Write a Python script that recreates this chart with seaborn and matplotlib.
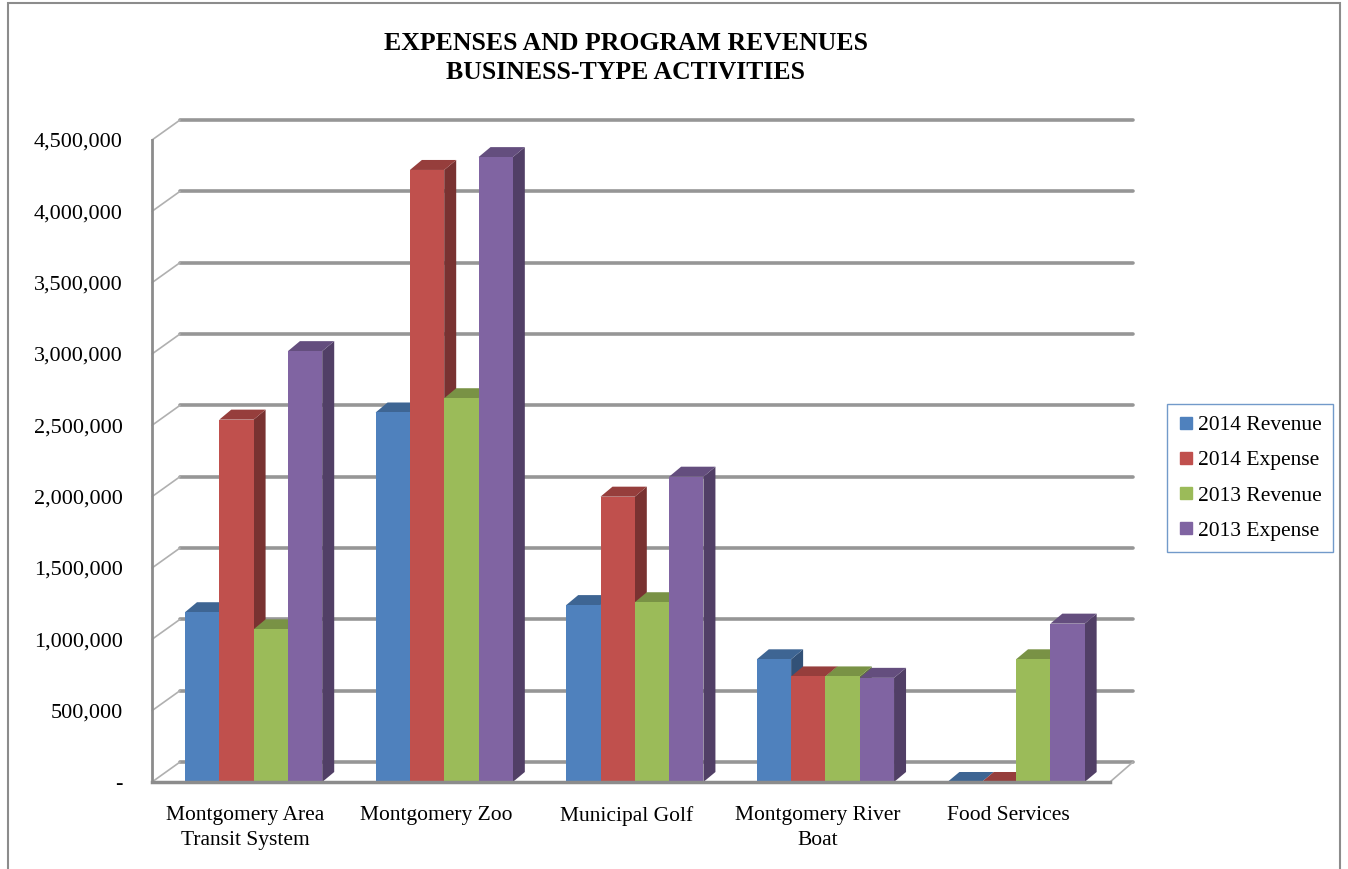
import numpy as np
import pandas as pd
import matplotlib
matplotlib.use("Agg")
import matplotlib.pyplot as plt
import matplotlib.transforms as mtransforms
from matplotlib.patches import Polygon, Rectangle
from matplotlib.lines import Line2D
import seaborn as sns

# ---------------- data ----------------
categories = ["Montgomery Area\nTransit System", "Montgomery Zoo", "Municipal Golf",
              "Montgomery River\nBoat", "Food Services"]
series = ["2014 Revenue", "2014 Expense", "2013 Revenue", "2013 Expense"]
rev_2014 = [1190000, 2590000, 1240000, 860000, 0]
exp_2014 = [2540000, 4290000, 2000000, 740000, 0]
rev_2013 = [1070000, 2690000, 1260000, 740000, 860000]
exp_2013 = [3020000, 4380000, 2140000, 730000, 1110000]
colors = ["#4F81BD", "#C0504D", "#9BBB59", "#8064A2"]
yticks = [0, 500000, 1000000, 1500000, 2000000, 2500000, 3000000, 3500000, 4000000, 4500000]
title = "EXPENSES AND PROGRAM REVENUES\nBUSINESS-TYPE ACTIVITIES"

values = [rev_2014, exp_2014, rev_2013, exp_2013]
df = pd.DataFrame({
    "category": [c for s in series for c in categories],
    "series": [s for s in series for c in categories],
    "value": [v for vals in values for v in vals],
})

# ---------------- style ----------------
sns.set_theme(style="white")
plt.rcParams["font.family"] = ["Liberation Serif", "DejaVu Serif"]
plt.rcParams["text.color"] = "black"
plt.rcParams["xtick.color"] = "black"
plt.rcParams["ytick.color"] = "black"

W, H, DPI = 1348, 869, 100
fig = plt.figure(figsize=(W / DPI, H / DPI), dpi=DPI)
ax_left, ax_right, ax_bot, ax_top = 152, 1110, 782, 140
ax = fig.add_axes([ax_left / W, 1 - ax_bot / H, (ax_right - ax_left) / W, (ax_bot - ax_top) / H])

sns.barplot(data=df, x="category", y="value", hue="series", order=categories,
            hue_order=series, palette=colors, saturation=1, width=0.72,
            legend=False, ax=ax, edgecolor="none", linewidth=0, zorder=2)

ax.set_ylim(0, 4500000)
ax.set_xlim(-0.533, 4.493)
ax.set_yticks(yticks)
ax.set_yticklabels(["-" if v == 0 else f"{v:,}" for v in yticks], fontsize=16, color="black")
ax.set_xlabel("")
ax.set_ylabel("")
ax.tick_params(axis="y", length=0, pad=21)
ax.tick_params(axis="x", length=0, pad=17)
for lbl in ax.get_xticklabels():
    lbl.set_fontsize(15.5)
    lbl.set_color("black")
    lbl.set_linespacing(1.45)
    lbl.set_transform(lbl.get_transform() + mtransforms.ScaledTranslation(-8 / DPI, 0, fig.dpi_scale_trans))

for s in ["top", "right"]:
    ax.spines[s].set_visible(False)
ax.spines["left"].set_color("#8c8c8c")
ax.spines["left"].set_linewidth(2)
ax.spines["bottom"].set_color("#8c8c8c")
ax.spines["bottom"].set_linewidth(2.5)
ax.grid(False)

ident = mtransforms.IdentityTransform()
DX, DY = 12, 10     # bar depth in pixels
GX, GY = 28, 20     # back wall offset in pixels
back_right = 1133

# back-wall gridlines and connectors
for v in yticks:
    fx, fy = ax.transData.transform((ax.get_xlim()[0], v))
    ax.add_line(Line2D([fx + GX, back_right], [fy + GY, fy + GY], transform=ident,
                       color="#969696", lw=2.6, zorder=0.5, clip_on=False))
    ax.add_line(Line2D([fx, fx + GX], [fy, fy + GY], transform=ident,
                       color="#b0b0b0", lw=1.2, zorder=0.5, clip_on=False))
# floor right diagonal
fx0, fy0 = ax.transData.transform((ax.get_xlim()[1], 0))
ax.add_line(Line2D([fx0, fx0 + back_right - ax_right], [fy0, fy0 + GY], transform=ident,
                   color="#b0b0b0", lw=1.2, zorder=0.5, clip_on=False))


def darker(c, f):
    r, g, b = matplotlib.colors.to_rgb(c)
    return (r * f, g * f, b * f)


# pseudo-3D faces derived from each bar
for cont, col in zip(ax.containers, colors):
    for bar in cont:
        x0, w, h = bar.get_x(), bar.get_width(), bar.get_height()
        px0, py0 = ax.transData.transform((x0, 0))
        px1, py1 = ax.transData.transform((x0 + w, h))
        side = Polygon([(px1, py0), (px1 + DX, py0 + DY), (px1 + DX, py1 + DY), (px1, py1)],
                       closed=True, transform=ident, facecolor=darker(col, 0.63),
                       edgecolor="none", zorder=1.9, clip_on=False)
        top = Polygon([(px0, py1), (px1, py1), (px1 + DX, py1 + DY), (px0 + DX, py1 + DY)],
                      closed=True, transform=ident, facecolor=darker(col, 0.78),
                      edgecolor="none", zorder=1.9, clip_on=False)
        ax.add_patch(side)
        ax.add_patch(top)

# legend
handles = [Line2D([], [], marker="s", ls="", color=c, markersize=8) for c in colors]
leg = fig.legend(handles, series, loc="center left", bbox_to_anchor=(1167 / W, 1 - 478 / H),
                 frameon=True, fancybox=False, edgecolor="#4F81BD", fontsize=15.5,
                 labelspacing=0.7, handletextpad=0.15, handlelength=0.8, borderpad=0.5,
                 borderaxespad=0)
leg.get_frame().set_linewidth(1.0)
for t in leg.get_texts():
    t.set_color("black")

# title
fig.text(626 / W, 1 - 58 / H, title, ha="center", va="center", fontsize=18.5,
         fontweight="bold", linespacing=1.32, color="black")

# outer chart border
fig.add_artist(Rectangle((8 / W, -0.01), (1340 - 8) / W, 1 - 3 / H + 0.01,
                         transform=fig.transFigure, fill=False, edgecolor="#8c8c8c", lw=1.5))

fig.savefig("out.png", dpi=DPI)
